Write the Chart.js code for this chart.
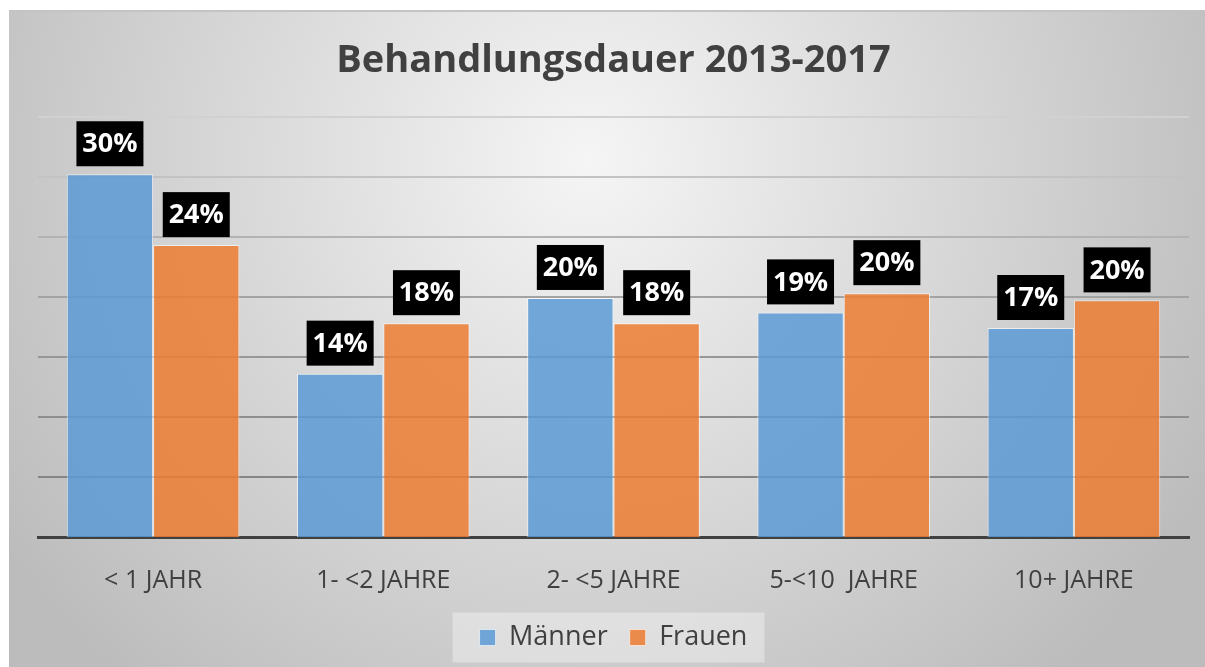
<!DOCTYPE html>
<html>
<head>
<meta charset="utf-8">
<script src="https://cdn.jsdelivr.net/npm/chart.js@4"></script>
<style>
  html, body { margin: 0; padding: 0; background: #fff; }
  #wrap { position: absolute; left: 9px; top: 10px; width: 1196px; height: 657px; }
</style>
</head>
<body>
<div id="wrap"><canvas id="chart"></canvas></div>
<script>
const categories = ['< 1 JAHR', '1- <2 JAHRE', '2- <5 JAHRE', '5-<10  JAHRE', '10+ JAHRE'];
const maenner = [30.2, 13.6, 19.9, 18.7, 17.4];
const frauen = [24.3, 17.8, 17.8, 20.3, 19.7];
const maennerLabels = ['30%', '14%', '20%', '19%', '17%'];
const frauenLabels = ['24%', '18%', '18%', '20%', '20%'];

const FONT = "'Open Sans', sans-serif";
const TEXT = '#404040';

// grid colours get darker towards the axis, like in the original
const gridColors = ['#404040', '#858585', '#8e8e8e', '#979797', '#a3a3a3', '#b3b3b3', '#c3c3c3', '#d1d1d1'];

const backgroundPlugin = {
  id: 'bg',
  beforeDraw(chart) {
    const { ctx, width, height } = chart;
    ctx.save();
    const g = ctx.createRadialGradient(580, 150, 0, 580, 150, 700);
    g.addColorStop(0, '#f5f5f5');
    g.addColorStop(1, '#bcbcbc');
    ctx.fillStyle = g;
    ctx.fillRect(0, 0, width, height);
    ctx.fillStyle = '#c4c4c4';
    ctx.fillRect(0, 0, width, 2);
    // legend box behind the items
    const lg = chart.legend;
    if (lg && lg.legendHitBoxes && lg.legendHitBoxes.length) {
      const hb = lg.legendHitBoxes;
      const first = hb[0], last = hb[hb.length - 1];
      const x0 = first.left - 27;
      const x1 = last.left + last.width + 17;
      const cy = first.top + first.height / 2;
      ctx.fillStyle = 'rgba(255,255,255,0.35)';
      ctx.fillRect(x0, cy - 25, x1 - x0, 50);
    }
    ctx.restore();
  }
};

const labelPlugin = {
  id: 'boxLabels',
  afterDatasetsDraw(chart) {
    const { ctx } = chart;
    const texts = [maennerLabels, frauenLabels];
    ctx.save();
    ctx.font = 'bold 27px ' + FONT;
    ctx.textAlign = 'center';
    ctx.textBaseline = 'middle';
    chart.data.datasets.forEach((ds, di) => {
      chart.getDatasetMeta(di).data.forEach((bar, i) => {
        const w = 67, h = 45;
        const x = bar.x - w / 2;
        const y = bar.y - 8 - h;
        ctx.fillStyle = '#000';
        ctx.fillRect(x, y, w, h);
        ctx.fillStyle = '#fff';
        ctx.fillText(texts[di][i], bar.x, y + h / 2 + 1);
      });
    });
    ctx.restore();
  }
};

new Chart(document.getElementById('chart'), {
  type: 'bar',
  data: {
    labels: categories,
    datasets: [
      {
        label: 'Männer',
        data: maenner,
        backgroundColor: 'rgba(91,155,213,0.85)',
        borderColor: 'rgba(255,255,255,0.6)',
        borderWidth: 1,
        barPercentage: 1,
        categoryPercentage: 0.75
      },
      {
        label: 'Frauen',
        data: frauen,
        backgroundColor: 'rgba(237,125,49,0.85)',
        borderColor: 'rgba(255,255,255,0.6)',
        borderWidth: 1,
        barPercentage: 1,
        categoryPercentage: 0.75
      }
    ]
  },
  options: {
    responsive: true,
    maintainAspectRatio: false,
    animation: false,
    layout: { padding: { left: 29, right: 16, top: 0, bottom: 6 } },
    plugins: {
      title: {
        display: true,
        text: 'Behandlungsdauer 2013-2017',
        color: TEXT,
        font: { family: FONT, size: 38, weight: 'bold' },
        padding: { top: 28, bottom: 33 }
      },
      legend: {
        display: true,
        position: 'bottom',
        labels: {
          color: TEXT,
          boxWidth: 16,
          boxHeight: 16,
          padding: 22,
          font: { family: FONT, size: 27 }
        }
      },
      tooltip: { enabled: false }
    },
    scales: {
      y: {
        min: 0,
        max: 35,
        ticks: { display: false, stepSize: 5 },
        grid: {
          color: (c) => gridColors[c.index] || '#ccc',
          lineWidth: (c) => c.index === 0 ? 0 : 2,
          drawTicks: false
        },
        border: { display: false },
        afterFit: (s) => { s.width = 0; }
      },
      x: {
        ticks: { color: TEXT, font: { family: FONT, size: 25 }, padding: 29 },
        grid: { display: false, drawTicks: false },
        border: { display: true, color: '#404040', width: 3 },
        afterFit: (s) => { s.height = 65; }
      }
    }
  },
  plugins: [backgroundPlugin, labelPlugin]
});
</script>
</body>
</html>
